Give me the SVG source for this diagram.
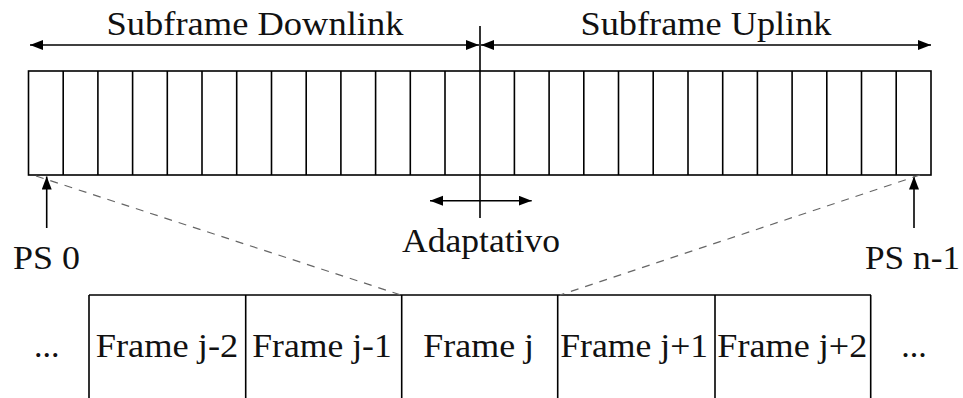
<svg xmlns="http://www.w3.org/2000/svg" width="963" height="398" viewBox="0 0 963 398">
  <style>
    .ln { stroke: #000; stroke-width: 1.6; fill: none; }
    .dash { stroke: #666; stroke-width: 1.2; stroke-dasharray: 8 7; fill: none; }
    .t { font-family: "Liberation Serif", "Times New Roman", serif; font-size: 34px; fill: #111; text-anchor: middle; }
  </style>
  <defs>
    <marker id="ah" markerUnits="userSpaceOnUse" markerWidth="14" markerHeight="12" refX="13" refY="5" orient="auto-start-reverse">
      <path d="M0,0 L13,5 L0,10 z" fill="#000"/>
    </marker>
  </defs>
  <rect width="963" height="398" fill="#fff"/>

  <!-- slot bar: 26 physical slots -->
  <g id="slot-bar">
    <rect class="ln" x="28.5" y="71" width="902.5" height="104"/>
    <path class="ln" d="M63.2,71V175 M97.9,71V175 M132.6,71V175 M167.3,71V175 M202,71V175 M236.7,71V175 M271.5,71V175 M306.2,71V175 M340.9,71V175 M375.6,71V175 M410.3,71V175 M445,71V175 M514.4,71V175 M549.1,71V175 M583.8,71V175 M618.5,71V175 M653.2,71V175 M688,71V175 M722.7,71V175 M757.4,71V175 M792.1,71V175 M826.8,71V175 M861.5,71V175 M896.2,71V175"/>
  </g>

  <!-- downlink / uplink boundary -->
  <g id="boundary">
    <path class="ln" d="M480,26V218"/>
  </g>

  <g id="label-downlink">
    <text class="t" x="255" y="35" textLength="297" lengthAdjust="spacingAndGlyphs">Subframe Downlink</text>
  </g>
  <g id="label-uplink">
    <text class="t" x="706" y="35" textLength="251" lengthAdjust="spacingAndGlyphs">Subframe Uplink</text>
  </g>
  <g id="label-ps0">
    <text class="t" x="46.5" y="269" textLength="67" lengthAdjust="spacingAndGlyphs">PS 0</text>
  </g>
  <g id="label-psn1">
    <text class="t" x="912.5" y="269" textLength="95" lengthAdjust="spacingAndGlyphs">PS n-1</text>
  </g>
  <g id="label-adaptativo">
    <text class="t" x="481" y="252" textLength="158" lengthAdjust="spacingAndGlyphs">Adaptativo</text>
  </g>

  <!-- frame sequence -->
  <g id="frames">
    <path class="ln" d="M89,295H871 M89,295V398 M245.7,295V398 M401.7,295V398 M557.7,295V398 M715,295V398 M870.7,295V398"/>
  </g>
  <g id="frame-jm2"><text class="t" x="167" y="357" textLength="142.6" lengthAdjust="spacingAndGlyphs">Frame j-2</text></g>
  <g id="frame-jm1"><text class="t" x="322" y="357" textLength="139.4" lengthAdjust="spacingAndGlyphs">Frame j-1</text></g>
  <g id="frame-j"><text class="t" x="478.7" y="357" textLength="110.7" lengthAdjust="spacingAndGlyphs">Frame j</text></g>
  <g id="frame-jp1"><text class="t" x="634.2" y="357" textLength="148" lengthAdjust="spacingAndGlyphs">Frame j+1</text></g>
  <g id="frame-jp2"><text class="t" x="792.3" y="357" textLength="150" lengthAdjust="spacingAndGlyphs">Frame j+2</text></g>
  <g id="ellipsis-left"><text class="t" x="46.7" y="357">...</text></g>
  <g id="ellipsis-right"><text class="t" x="914" y="357">...</text></g>

  <!-- connectors -->
  <g id="connectors">
    <path class="ln" d="M30,45H479" marker-start="url(#ah)" marker-end="url(#ah)"/>
    <path class="ln" d="M481,45H931" marker-start="url(#ah)" marker-end="url(#ah)"/>
    <path class="ln" d="M430,200.7H531.7" marker-start="url(#ah)" marker-end="url(#ah)"/>
    <path class="ln" d="M46.7,228V176.5" marker-end="url(#ah)"/>
    <path class="ln" d="M914,228V176.5" marker-end="url(#ah)"/>
    <path class="dash" d="M36,176L401,295"/>
    <path class="dash" d="M920,175L560,295"/>
  </g>
</svg>
